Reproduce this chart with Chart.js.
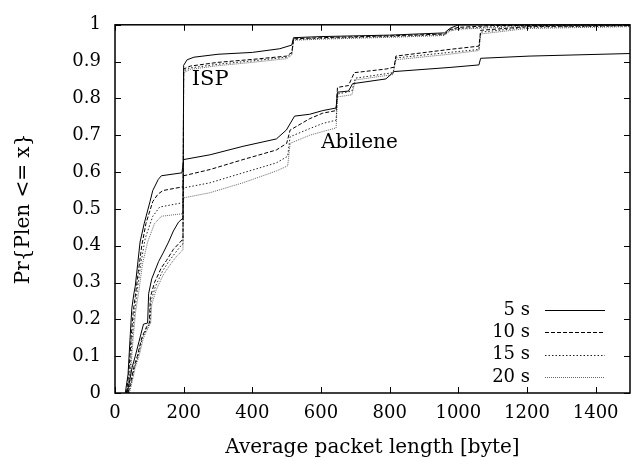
<!DOCTYPE html>
<html>
<head>
<meta charset="utf-8">
<script src="https://cdn.jsdelivr.net/npm/chart.js@4"></script>
<style>
  html, body { margin: 0; padding: 0; background: #fff; }
  #wrap { width: 633px; height: 460px; }
</style>
</head>
<body>
<div id="wrap"><canvas id="cdf"></canvas></div>
<script>
// tick labels
const xTicks = [0, 200, 400, 600, 800, 1000, 1200, 1400];
const yTickLabels = ['0', '0.1', '0.2', '0.3', '0.4', '0.5', '0.6', '0.7', '0.8', '0.9', '1'];
const seriesNames = ['5 s', '10 s', '15 s', '20 s'];

// ISP curves, [packet length, cdf]
const isp5 = [[35,0],[42,0.03],[50,0.07],[59,0.1],[70,0.14],[83,0.187],[95,0.19],[98,0.27],[107,0.31],[127,0.357],[140,0.38],[156,0.41],[170,0.44],[185,0.464],[198,0.475],[200,0.89],[210,0.905],[230,0.912],[300,0.92],[400,0.925],[480,0.935],[515,0.945],[520,0.965],[600,0.968],[800,0.972],[960,0.978],[975,0.99],[1000,1.0],[1500,1.0]];
const isp10 = [[38,0],[46,0.03],[55,0.07],[65,0.1],[78,0.15],[92,0.18],[100,0.19],[103,0.26],[115,0.3],[135,0.34],[150,0.36],[170,0.39],[190,0.41],[198,0.418],[200,0.88],[220,0.888],[300,0.898],[400,0.906],[500,0.915],[515,0.925],[520,0.962],[600,0.965],[800,0.97],[960,0.975],[975,0.987],[1000,0.993],[1100,0.998],[1500,1.0]];
const isp15 = [[40,0],[48,0.03],[57,0.07],[67,0.1],[80,0.15],[95,0.18],[102,0.19],[105,0.25],[118,0.29],[138,0.33],[155,0.355],[175,0.38],[192,0.4],[198,0.405],[200,0.875],[220,0.883],[300,0.893],[400,0.902],[500,0.912],[515,0.922],[520,0.96],[600,0.963],[800,0.968],[960,0.973],[975,0.985],[1000,0.99],[1150,0.997],[1500,1.0]];
const isp20 = [[42,0],[50,0.03],[59,0.07],[70,0.1],[83,0.15],[98,0.18],[104,0.19],[107,0.24],[120,0.28],[140,0.32],[158,0.345],[178,0.37],[194,0.385],[198,0.39],[200,0.87],[220,0.879],[300,0.889],[400,0.898],[500,0.908],[515,0.918],[520,0.958],[600,0.961],[800,0.966],[960,0.971],[975,0.983],[1000,0.988],[1200,0.996],[1500,1.0]];

// Abilene curves
const abi5 = [[30,0],[38,0.05],[44,0.15],[49,0.23],[55,0.27],[59,0.29],[66,0.35],[73,0.41],[85,0.46],[102,0.52],[110,0.55],[126,0.58],[135,0.59],[195,0.598],[200,0.634],[277,0.647],[373,0.67],[470,0.69],[499,0.714],[523,0.752],[567,0.757],[605,0.767],[644,0.774],[648,0.817],[680,0.82],[692,0.84],[789,0.853],[813,0.873],[973,0.884],[1060,0.891],[1065,0.909],[1206,0.915],[1500,0.922]];
const abi10 = [[33,0],[40,0.05],[47,0.15],[53,0.22],[60,0.27],[68,0.33],[78,0.4],[90,0.46],[110,0.52],[125,0.54],[140,0.55],[198,0.56],[200,0.59],[277,0.607],[373,0.634],[470,0.66],[500,0.678],[510,0.714],[567,0.745],[605,0.76],[644,0.767],[648,0.83],[680,0.835],[697,0.87],[790,0.88],[813,0.885],[818,0.915],[973,0.933],[1060,0.942],[1065,0.985],[1200,0.995],[1500,0.998]];
const abi15 = [[35,0],[43,0.05],[50,0.15],[57,0.22],[65,0.28],[75,0.35],[88,0.42],[110,0.48],[130,0.505],[198,0.517],[200,0.557],[277,0.571],[373,0.598],[470,0.625],[503,0.643],[510,0.696],[567,0.718],[605,0.732],[644,0.741],[648,0.812],[690,0.82],[700,0.855],[810,0.87],[818,0.91],[973,0.925],[1060,0.933],[1065,0.98],[1200,0.993],[1500,0.997]];
const abi20 = [[37,0],[45,0.05],[53,0.15],[60,0.22],[70,0.28],[80,0.35],[95,0.41],[115,0.46],[135,0.48],[198,0.487],[200,0.53],[277,0.544],[373,0.571],[470,0.603],[503,0.617],[510,0.678],[567,0.70],[605,0.71],[644,0.72],[648,0.804],[690,0.81],[700,0.85],[810,0.865],[818,0.905],[973,0.92],[1060,0.93],[1065,0.975],[1200,0.99],[1500,0.995]];

const FONT = '"DejaVu Serif", serif';
const styles = [
  { color: '#000', dash: [] },
  { color: '#000', dash: [4, 2] },
  { color: '#222', dash: [1.5, 2] },
  { color: '#666', dash: [1, 1] },
];

const toXY = (arr) => arr.map(([x, y]) => ({ x, y }));
const mkSet = (arr, i) => ({
  label: seriesNames[i],
  data: toXY(arr),
  borderColor: styles[i].color,
  borderDash: styles[i].dash,
  borderWidth: 1,
  pointRadius: 0,
  tension: 0,
  fill: false,
});

// frame with inward ticks on all four sides, gnuplot style
const frame = {
  id: 'frame',
  afterDraw(chart) {
    const { ctx, chartArea: a, scales: { x, y } } = chart;
    ctx.save();
    ctx.strokeStyle = '#000';
    ctx.lineWidth = 1;
    ctx.beginPath();
    xTicks.forEach(v => {
      const px = Math.round(x.getPixelForValue(v)) + 0.5;
      ctx.moveTo(px, a.bottom); ctx.lineTo(px, a.bottom - 6);
      ctx.moveTo(px, a.top); ctx.lineTo(px, a.top + 6);
    });
    yTickLabels.forEach((_, i) => {
      const py = Math.round(y.getPixelForValue(i / 10)) + 0.5;
      ctx.moveTo(a.left, py); ctx.lineTo(a.left + 6, py);
      ctx.moveTo(a.right, py); ctx.lineTo(a.right - 6, py);
    });
    ctx.stroke();
    ctx.lineWidth = 1.5;
    ctx.strokeRect(a.left, a.top, a.right - a.left, a.bottom - a.top);

    // curve labels
    ctx.fillStyle = '#000';
    ctx.textAlign = 'center';
    ctx.textBaseline = 'middle';
    ctx.font = '21px ' + FONT;
    ctx.fillText('ISP', x.getPixelForValue(277), y.getPixelForValue(0.85));
    ctx.font = '20px ' + FONT;
    ctx.fillText('Abilene', x.getPixelForValue(712), y.getPixelForValue(0.68));

    // key, bottom right
    ctx.font = '18px ' + FONT;
    ctx.textAlign = 'right';
    chart.data.datasets.slice(0, 4).forEach((ds, i) => {
      const yy = a.bottom - 83 + i * 22.3;
      ctx.fillStyle = '#000';
      ctx.fillText(ds.label, a.right - 100, yy);
      ctx.beginPath();
      ctx.setLineDash(ds.borderDash);
      ctx.strokeStyle = ds.borderColor;
      ctx.lineWidth = 1;
      ctx.moveTo(a.right - 85, Math.round(yy) + 0.5);
      ctx.lineTo(a.right - 25, Math.round(yy) + 0.5);
      ctx.stroke();
    });
    ctx.restore();
  }
};

new Chart(document.getElementById('cdf'), {
  type: 'line',
  data: {
    datasets: [
      mkSet(isp5, 0), mkSet(isp10, 1), mkSet(isp15, 2), mkSet(isp20, 3),
      mkSet(abi5, 0), mkSet(abi10, 1), mkSet(abi15, 2), mkSet(abi20, 3),
    ],
  },
  options: {
    responsive: true,
    maintainAspectRatio: false,
    animation: false,
    layout: { padding: { top: 20, right: 3, left: 0, bottom: 0 } },
    scales: {
      x: {
        type: 'linear',
        min: 0,
        max: 1500,
        afterBuildTicks: (s) => { s.ticks = xTicks.map(v => ({ value: v })); },
        afterFit: (s) => { s.height = 67; },
        grid: { display: false, drawTicks: false },
        border: { display: false },
        ticks: { color: '#000', font: { family: FONT, size: 18 }, padding: 10, maxRotation: 0, callback: (v) => String(v) },
        title: { display: true, text: 'Average packet length [byte]', color: '#000', font: { family: FONT, size: 20 }, padding: { top: 0, bottom: 0 } },
      },
      y: {
        min: 0,
        max: 1,
        afterBuildTicks: (s) => { s.ticks = yTickLabels.map((_, i) => ({ value: i / 10 })); },
        afterFit: (s) => { s.width = 115; },
        grid: { display: false, drawTicks: false },
        border: { display: false },
        ticks: { color: '#000', font: { family: FONT, size: 18 }, padding: 14, callback: (v, i) => yTickLabels[i] },
        title: { display: true, text: 'Pr{Plen <= x}', color: '#000', font: { family: FONT, size: 20 }, padding: { top: 12, bottom: 0 } },
      },
    },
    plugins: {
      legend: { display: false },
      tooltip: { enabled: false },
    },
  },
  plugins: [frame],
});
</script>
</body>
</html>
